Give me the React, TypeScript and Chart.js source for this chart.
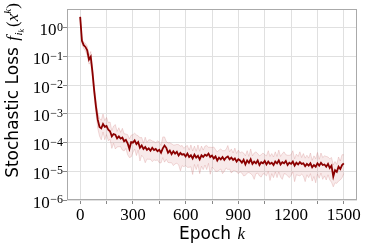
import React, { useEffect, useRef } from "react";
import { Chart, registerables } from "chart.js";

Chart.register(...registerables);

// log10 of mean stochastic loss, every 10 epochs from 0 to 1500
const lossLog: number[] = [
  0.39, -0.45, -0.6, -0.66, -0.78, -1.1, -1.0, -1.55, -2.2, -2.75,
  -3.2, -3.45, -3.5, -3.35, -3.45, -3.42, -3.55, -3.6, -3.78, -3.7,
  -3.72, -3.85, -3.78, -3.86, -3.82, -3.95, -3.9, -4.02, -4.22, -3.98,
  -4.0, -3.92, -4.05, -3.98, -4.18, -4.1, -4.22, -4.15, -4.25, -4.2,
  -4.28, -4.18, -4.26, -4.22, -4.3, -4.25, -4.35, -4.2, -4.1, -4.18,
  -4.35, -4.28, -4.4, -4.3, -4.38, -4.32, -4.45, -4.36, -4.42, -4.4,
  -4.48, -4.38, -4.5, -4.44, -4.55, -4.42, -4.52, -4.46, -4.58, -4.44,
  -4.5, -4.42, -4.46, -4.38, -4.5, -4.45, -4.55, -4.48, -4.62, -4.52,
  -4.58, -4.5, -4.6, -4.52, -4.48, -4.58, -4.52, -4.6, -4.55, -4.66,
  -4.58, -4.62, -4.7, -4.6, -4.76, -4.62, -4.7, -4.58, -4.74, -4.66,
  -4.72, -4.62, -4.78, -4.68, -4.72, -4.64, -4.76, -4.66, -4.74, -4.7,
  -4.78, -4.66, -4.72, -4.62, -4.76, -4.68, -4.72, -4.64, -4.78, -4.7,
  -4.74, -4.66, -4.8, -4.7, -4.76, -4.68, -4.74, -4.72, -4.82, -4.74,
  -4.8, -4.72, -4.86, -4.78, -4.84, -4.72, -4.8, -4.7, -4.78, -4.76,
  -4.84, -4.74, -4.88, -4.8, -5.18, -4.96, -5.02, -4.84, -4.92, -4.78,
  -4.72,
];

// spread of the shaded band above the mean (decades)
const bandUp: number[] = [
  0.02, 0.08, 0.1, 0.12, 0.15, 0.14, 0.18, 0.2, 0.18, 0.22, 0.25,
  0.3, 0.28, 0.35, 0.22, 0.3, 0.25, 0.32, 0.2, 0.28, 0.35, 0.24, 0.3, 0.22, 0.32, 0.26, 0.2, 0.3, 0.35, 0.24, 0.28,
  0.25, 0.32, 0.22, 0.35, 0.28, 0.2, 0.34, 0.26, 0.3, 0.38, 0.24, 0.3, 0.22, 0.36, 0.28, 0.25, 0.4, 0.3, 0.22, 0.34,
  0.28, 0.36, 0.22, 0.3, 0.26, 0.38, 0.24, 0.32, 0.2, 0.35, 0.28, 0.24, 0.36, 0.26, 0.3, 0.22, 0.38, 0.28, 0.32, 0.24,
  0.3, 0.36, 0.22, 0.34, 0.28, 0.4, 0.24, 0.3, 0.26, 0.36, 0.22, 0.32, 0.28, 0.38, 0.26, 0.3, 0.24, 0.36, 0.28, 0.32,
  0.26, 0.38, 0.24, 0.3, 0.34, 0.22, 0.36, 0.28, 0.3, 0.4, 0.24, 0.32, 0.26, 0.36, 0.22, 0.3, 0.38, 0.26, 0.32, 0.28,
  0.34, 0.24, 0.36, 0.28, 0.3, 0.4, 0.22, 0.34, 0.26, 0.32, 0.38, 0.24, 0.3, 0.28, 0.36, 0.22, 0.34, 0.28, 0.3, 0.26,
  0.36, 0.24, 0.32, 0.28, 0.38, 0.22, 0.34, 0.26, 0.3, 0.36, 0.24, 0.32, 0.28, 0.4, 0.3, 0.26, 0.34, 0.28, 0.36, 0.3,
];

// spread of the shaded band below the mean (decades)
const bandDown: number[] = [
  0.02, 0.1, 0.12, 0.14, 0.18, 0.16, 0.2, 0.22, 0.2, 0.25, 0.3,
  0.32, 0.4, 0.28, 0.45, 0.3, 0.38, 0.28, 0.42, 0.32, 0.5, 0.3, 0.36, 0.28, 0.44, 0.34, 0.3, 0.4, 0.3, 0.52, 0.34,
  0.3, 0.4, 0.28, 0.46, 0.34, 0.3, 0.55, 0.32, 0.38, 0.3, 0.48, 0.34, 0.4, 0.3, 0.45, 0.36, 0.32, 0.58, 0.4, 0.34,
  0.42, 0.3, 0.5, 0.36, 0.4, 0.32, 0.62, 0.38, 0.44, 0.32, 0.48, 0.36, 0.4, 0.56, 0.34, 0.42, 0.3, 0.5, 0.38, 0.44,
  0.36, 0.48, 0.34, 0.6, 0.4, 0.36, 0.52, 0.38, 0.44, 0.34, 0.58, 0.4, 0.36, 0.46, 0.34, 0.54, 0.38, 0.42, 0.36, 0.5,
  0.4, 0.36, 0.56, 0.38, 0.44, 0.34, 0.5, 0.4, 0.62, 0.36, 0.44, 0.38, 0.52, 0.36, 0.46, 0.4, 0.34, 0.58, 0.38, 0.44,
  0.36, 0.5, 0.4, 0.44, 0.6, 0.36, 0.46, 0.38, 0.52, 0.4, 0.36, 0.56, 0.42, 0.38, 0.48, 0.36, 0.44, 0.54, 0.38, 0.42,
  0.36, 0.48, 0.4, 0.56, 0.38, 0.44, 0.36, 0.5, 0.4, 0.46, 0.38, 0.42, 0.58, 0.36, 0.44, 0.4, 0.5, 0.38, 0.44, 0.36,
];

const epochs: number[] = lossLog.map((_, i) => i * 10);
const xTicks: number[] = [0, 150, 300, 450, 600, 750, 900, 1050, 1200, 1350, 1500];
const xLabelTicks: number[] = [0, 300, 600, 900, 1200, 1500];
const yTickExps: number[] = [-6, -5, -4, -3, -2, -1, 0];

const SERIF = '"Liberation Serif", "DejaVu Serif", serif';
const SANS = '"DejaVu Sans", sans-serif';

type Part = { t: string; font: string; dy: number; gap?: number };

function partsWidth(ctx: CanvasRenderingContext2D, parts: Part[]) {
  let w = 0;
  for (const p of parts) {
    ctx.font = p.font;
    w += ctx.measureText(p.t).width + (p.gap || 0);
  }
  return w;
}

function drawParts(ctx: CanvasRenderingContext2D, parts: Part[], x0: number, y0: number) {
  let x = x0;
  for (const p of parts) {
    ctx.font = p.font;
    ctx.fillText(p.t, x, y0 + p.dy);
    x += ctx.measureText(p.t).width + (p.gap || 0);
  }
}

const decorPlugin = {
  id: "decor",
  afterDraw(chart: any) {
    const ctx: CanvasRenderingContext2D = chart.ctx;
    const a = chart.chartArea;
    const ys = chart.scales.y;
    ctx.save();
    // frame
    ctx.strokeStyle = "#aaaaaa";
    ctx.lineWidth = 1;
    ctx.strokeRect(a.left + 0.5, a.top + 0.5, a.right - a.left - 1, a.bottom - a.top - 1);
    // y tick labels 10^e
    ctx.fillStyle = "#000";
    ctx.textBaseline = "alphabetic";
    ctx.textAlign = "left";
    for (const e of yTickExps) {
      const py = ys.getPixelForValue(Math.pow(10, e));
      const expStr = e < 0 ? "\u2212" + String(-e) : String(e);
      const parts: Part[] = [
        { t: "10", font: `17px ${SERIF}`, dy: 0, gap: 0.5 },
        { t: expStr, font: `12px ${SERIF}`, dy: -4.5 },
      ];
      const w = partsWidth(ctx, parts);
      drawParts(ctx, parts, 63 - w, py + 7.5);
    }
    // x title
    const xParts: Part[] = [
      { t: "Epoch ", font: `17px ${SANS}`, dy: 0, gap: 1 },
      { t: "k", font: `italic 17px ${SERIF}`, dy: 0 },
    ];
    const xw = partsWidth(ctx, xParts);
    drawParts(ctx, xParts, (a.left + a.right) / 2 - xw / 2, 238.5);
    // y title (rotated)
    const yParts: Part[] = [
      { t: "Stochastic Loss ", font: `17px ${SANS}`, dy: 0, gap: 1 },
      { t: "f", font: `italic 17px ${SERIF}`, dy: 0, gap: 0.5 },
      { t: "i", font: `italic 11px ${SERIF}`, dy: 3.5 },
      { t: "k", font: `italic 8px ${SERIF}`, dy: 5.5, gap: 2 },
      { t: "(", font: `17px ${SERIF}`, dy: 0 },
      { t: "x", font: `italic 17px ${SERIF}`, dy: 0 },
      { t: "k", font: `italic 11px ${SERIF}`, dy: -7 },
      { t: ")", font: `17px ${SERIF}`, dy: 0 },
    ];
    const yw = partsWidth(ctx, yParts);
    ctx.translate(18, (a.top + a.bottom) / 2 - 14);
    ctx.rotate(-Math.PI / 2);
    drawParts(ctx, yParts, -yw / 2, 0);
    ctx.restore();
  },
};

export default function App() {
  const ref = useRef<HTMLCanvasElement | null>(null);
  useEffect(() => {
    if (!ref.current) return;
    const mean = lossLog.map((v, i) => ({ x: epochs[i], y: Math.pow(10, v) }));
    const upper = lossLog.map((v, i) => ({ x: epochs[i], y: Math.pow(10, v + bandUp[i]) }));
    const lower = lossLog.map((v, i) => ({ x: epochs[i], y: Math.pow(10, v - bandDown[i]) }));
    const chart = new Chart(ref.current, {
      type: "line",
      data: {
        datasets: [
          {
            data: mean,
            borderColor: "#8b0000",
            borderWidth: 1.8,
            pointRadius: 0,
            fill: false,
            tension: 0,
          },
          {
            data: lower,
            borderColor: "rgba(200,110,110,0.3)",
            borderWidth: 0.8,
            pointRadius: 0,
            fill: false,
            tension: 0,
          },
          {
            data: upper,
            borderColor: "rgba(200,110,110,0.3)",
            borderWidth: 0.8,
            pointRadius: 0,
            fill: 1,
            backgroundColor: "rgba(190,60,60,0.11)",
            tension: 0,
          },
        ],
      },
      options: {
        animation: false,
        responsive: false,
        devicePixelRatio: 1,
        layout: { padding: { top: 9, right: 9, left: 0, bottom: 0 } },
        plugins: { legend: { display: false }, tooltip: { enabled: false } },
        scales: {
          x: {
            type: "linear",
            min: -75,
            max: 1575,
            afterBuildTicks: (s: any) => {
              s.ticks = xTicks.map((v) => ({ value: v }));
            },
            afterFit: (s: any) => {
              s.height = 46;
            },
            ticks: {
              padding: 1,
              color: "#000",
              font: { family: SERIF, size: 17 },
              maxRotation: 0,
              autoSkip: false,
              callback: (v: any) => (xLabelTicks.includes(Number(v)) ? String(v) : ""),
            },
            grid: { color: "#e0e0e0", lineWidth: 1, tickLength: 4, tickColor: "#888" },
            border: { display: false },
          },
          y: {
            type: "logarithmic",
            min: 1e-6,
            max: 4.6,
            afterBuildTicks: (s: any) => {
              s.ticks = yTickExps.map((e) => ({ value: Math.pow(10, e) }));
            },
            afterFit: (s: any) => {
              s.width = 67;
            },
            ticks: { display: false },
            grid: { color: "#e0e0e0", lineWidth: 1, tickLength: 4, tickColor: "#888" },
            border: { display: false },
          },
        },
      },
      plugins: [decorPlugin],
    });
    return () => chart.destroy();
  }, []);
  return (
    <div style={{ position: "absolute", left: 0, top: 0, width: 366, height: 246, background: "#fff" }}>
      <canvas ref={ref} width={366} height={246} style={{ display: "block" }} />
    </div>
  );
}
